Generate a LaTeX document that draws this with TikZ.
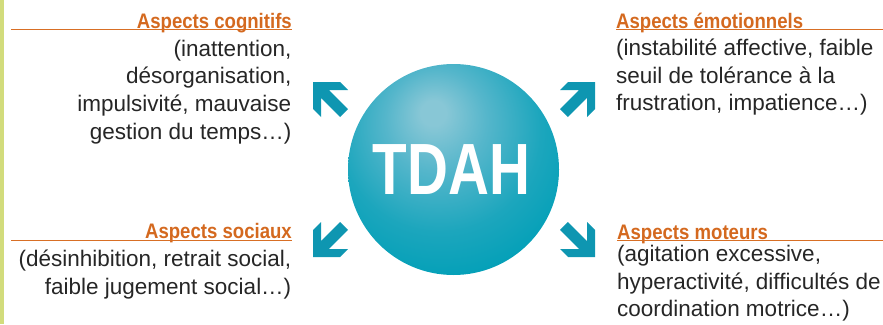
\documentclass[tikz,border=0pt]{standalone}
\usepackage{fontspec}
\setmainfont{Liberation Sans}
\usepackage{graphicx}
\definecolor{barGreen}{HTML}{D2DC7C}
\definecolor{headOrange}{HTML}{D4691F}
\definecolor{lineOrange}{HTML}{D86F25}
\definecolor{bodyGray}{HTML}{262626}
\definecolor{arrowTeal}{HTML}{0E96B1}
\definecolor{ballA}{HTML}{88C7D6}
\definecolor{ballB}{HTML}{55B6CB}
\definecolor{ballC}{HTML}{1CA6BD}
\definecolor{ballD}{HTML}{04A0B8}
\definecolor{ballE}{HTML}{0092AC}
\pgfdeclareradialshading{tdahball}{\pgfpoint{-5bp}{14bp}}{color(0bp)=(ballA); color(3bp)=(ballA); color(12bp)=(ballB); color(24bp)=(ballC); color(33bp)=(ballD); color(40bp)=(ballE); color(70bp)=(ballE)}
\begin{document}
\begin{tikzpicture}[x=1pt,y=-1pt,
  headtxt/.style={font=\fontsize{21}{25}\selectfont\bfseries, text=headOrange, inner sep=0pt},
  bodytxt/.style={font=\fontsize{22.5}{27.6}\selectfont, text=bodyGray, inner sep=0pt},
  uline/.style={draw=lineOrange, line width=1.3pt},
  tdaharrow/.pic={\fill[arrowTeal] (0,0) -- (27,0) -- (35,8) -- (15.8,8) -- (35,27.2) -- (27.2,35) -- (8,15.8) -- (8,35) -- (0,27) -- cycle;}]
\useasboundingbox (0,0) rectangle (883,324);
\fill[barGreen] (0,0) rectangle (4,324);

% central ball
\node[circle, minimum size=211pt, inner sep=0pt, shading=tdahball] (ball) at (453.5,169.5) {};
\node[anchor=base, text=white, inner sep=0pt, font=\fontsize{72.6}{80}\selectfont\bfseries] (tdah) at (451.5,194) {\scalebox{0.78}[1]{TDAH}};

% arrows
\pic (arrNW) at (313,82) {tdaharrow};
\pic[xscale=-1] (arrNE) at (595,82) {tdaharrow};
\pic[yscale=-1] (arrSW) at (313,257) {tdaharrow};
\pic[xscale=-1,yscale=-1] (arrSE) at (595,257) {tdaharrow};

% cognitive
\node[headtxt, anchor=base east] (hcog) at (292,28.3) {\scalebox{0.885}[1]{Aspects cognitifs}};
\coordinate (lcog) at (11,29.5);
\draw[uline] (lcog) -- (lcog -| hcog.east);
\node[bodytxt, anchor=base east] (bcog) at (291.5,56.3) {\begin{tabular}[t]{@{}r@{}}(inattention,\\ désorganisation,\\ impulsivité, mauvaise\\ gestion du temps…)\end{tabular}};

% emotional
\node[headtxt, anchor=base west] (hemo) at (616,28.3) {\scalebox{0.885}[1]{Aspects émotionnels}};
\coordinate (remo) at (883,29.5);
\draw[uline] (hemo.west |- remo) -- (remo);
\node[bodytxt, anchor=base west] (bemo) at (616,55.5) {\begin{tabular}[t]{@{}l@{}}(instabilité affective, faible\\ seuil de tolérance à la\\ frustration, impatience…)\end{tabular}};

% social
\node[headtxt, anchor=base east] (hsoc) at (292,238.5) {\scalebox{0.885}[1]{Aspects sociaux}};
\coordinate (lsoc) at (11,240.5);
\draw[uline] (lsoc) -- (lsoc -| hsoc.east);
\node[bodytxt, anchor=base east] (bsoc) at (291.5,266.5) {\begin{tabular}[t]{@{}r@{}}(désinhibition, retrait social,\\ faible jugement social…)\end{tabular}};

% motor
\node[headtxt, anchor=base west] (hmot) at (617,239.5) {\scalebox{0.885}[1]{Aspects moteurs}};
\coordinate (rmot) at (883,240.5);
\draw[uline] (hmot.west |- rmot) -- (rmot);
\node[bodytxt, anchor=base west] (bmot) at (617,261.5) {\begin{tabular}[t]{@{}l@{}}(agitation excessive,\\ hyperactivité, difficultés de\\ coordination motrice…)\end{tabular}};
\end{tikzpicture}
\end{document}
